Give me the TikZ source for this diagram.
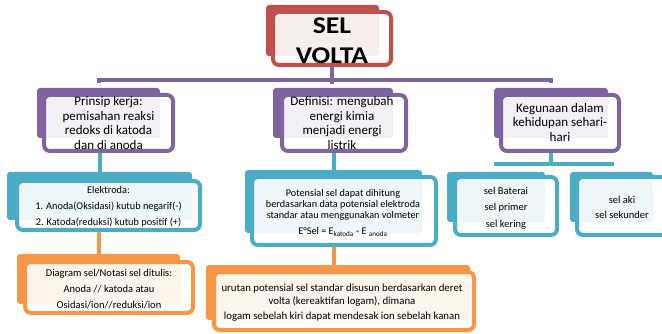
\documentclass[tikz,border=0pt]{standalone}
\usepackage{fontspec}
\setmainfont{Carlito}
\usetikzlibrary{fit,calc,backgrounds}
\definecolor{cred}{HTML}{C0504D}
\definecolor{cpur}{HTML}{8064A2}
\definecolor{cblu}{HTML}{4BACC6}
\definecolor{cora}{HTML}{F79646}
\begin{document}
\begin{tikzpicture}[x=1pt,y=-1pt,
  back/.style={fill=#1, rounded corners=3pt, inner sep=0pt},
  front/.style={draw=#1, line width=4pt, fill=white, fill opacity=0.9,
    rounded corners=6pt, inner sep=-2pt},
  txt/.style={align=center, text=black, inner sep=0pt},
  conn/.style={draw=#1, line width=4pt},
  f13/.style={font=\fontsize{13}{14.5}\selectfont}
]
\useasboundingbox (0,0) rectangle (662,334);

% title
\node[back=cred, fit={(266,5) (379,56)}] (titleB) {};
\node[front=cred, fit={(271,10) (393,67)}] (title) {};
\node[txt, font=\bfseries\fontsize{24}{30}\selectfont\addfontfeature{FakeStretch=1.15}, yshift=-2.5pt] (titleT) at (title.center) {SEL\\VOLTA};

% level 2
\node[back=cpur, fit={(37,88) (160,138)}] (prinB) {};
\node[front=cpur, fit={(42,93) (175,153)}] (prin) {};
\node[txt, f13] (prinT) at (prin.center) {Prinsip kerja:\\pemisahan reaksi\\redoks di katoda\\dan di anoda};

\node[back=cpur, fit={(273,88) (393,138)}] (defB) {};
\node[front=cpur, fit={(280,93) (408,153)}] (def) {};
\node[txt, f13, xshift=-2pt] (defT) at (def.center) {Definisi: mengubah\\energi kimia\\menjadi energi\\listrik};

\node[back=cpur, fit={(494,88) (608,138)}] (kegB) {};
\node[front=cpur, fit={(499,93) (621,153)}] (keg) {};
\node[txt, f13, yshift=0.5pt] (kegT) at (keg.center) {Kegunaan dalam\\kehidupan sehari-\\hari};

% level 3
\node[back=cblu, fit={(7,172) (192,220)}] (elekB) {};
\node[front=cblu, fit={(15,179) (202,232)}] (elek) {};
\node[txt, font=\fontsize{10.3}{16}\selectfont, yshift=-1.5pt] (elekT) at (elek.center) {Elektroda:\\1. Anoda(Oksidasi) kutub negarif(-)\\2. Katoda(reduksi) kutub positif (+)};

\node[back=cblu, fit={(245,170) (422,233)}] (potB) {};
\node[front=cblu, fit={(250,175) (438,247)}] (pot) {};
\node[txt, font=\fontsize{10.2}{11}\selectfont, yshift=-2pt, xshift=-1pt] (potT) at (pot.center) {Potensial sel dapat dihitung\\berdasarkan data potensial elektroda\\standar atau menggunakan volmeter\\[5pt]E°Sel = E\textsubscript{katoda} - E \textsubscript{anoda}};

\node[back=cblu, fit={(447,172) (545,222)}] (batB) {};
\node[front=cblu, fit={(453,175) (559,237)}] (bat) {};
\node[txt, font=\fontsize{10.5}{16.5}\selectfont, yshift=-2pt] (batT) at (bat.center) {sel Baterai\\sel primer\\sel kering};

\node[back=cblu, fit={(570,172) (653,222)}] (akiB) {};
\node[front=cblu, fit={(575,175) (669,237)}] (aki) {};
\node[txt, font=\fontsize{10.5}{15}\selectfont, yshift=-1pt] (akiT) at (aki.center) {sel aki\\sel sekunder};

% level 4
\node[back=cora, fit={(17,254) (180,304)}] (diaB) {};
\node[front=cora, fit={(23,260) (195,315)}] (dia) {};
\node[txt, font=\fontsize{10.5}{16}\selectfont, yshift=-1.5pt] (diaT) at (dia.center) {Diagram sel/Notasi sel ditulis:\\Anoda // katoda atau\\Osidasi/ion//reduksi/ion};

\node[back=cora, fit={(206,265) (470,320)}] (urB) {};
\node[front=cora, fit={(212,270) (476,332)}] (ur) {};
\node[txt, font=\fontsize{10.8}{13}\selectfont, yshift=-1.5pt, xshift=-2pt] (urT) at (ur.center) {urutan potensial sel standar disusun berdasarkan deret\\volta (kereaktifan logam), dimana\\[2pt]logam sebelah kiri dapat mendesak ion sebelah kanan};

% connectors
\begin{scope}[on background layer]
\draw[conn=cpur] (title.south) -- ++(0,17);
\draw[conn=cpur] ([yshift=5pt]prinB.north) |- ($(title.south)+(0,13)$) -| ([yshift=5pt]kegB.north);
\draw[conn=cblu] (elekB.north |- prin.south) -- (elekB.north);
\draw[conn=cblu] (potB.north |- def.south) -- (potB.north);
\draw[conn=cblu] (kegB.south |- keg.south) -- ++(0,11);
\draw[conn=cblu] ([yshift=6pt]batB.north) |- ($(keg.south)+(0,11)$) -| ([yshift=6pt]akiB.north);
\draw[conn=cora] (diaB.north |- elek.south) -- (diaB.north);
\draw[conn=cora] (potB.south |- pot.south) -- (potB.south |- urB.north);
\end{scope}
\end{tikzpicture}
\end{document}
